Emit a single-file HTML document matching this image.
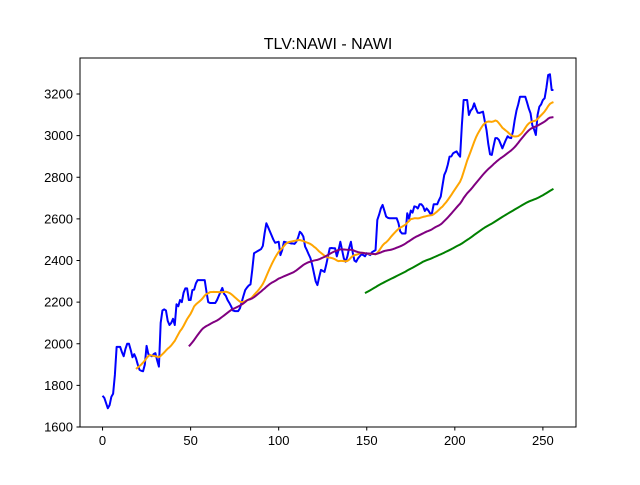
<!DOCTYPE html>
<html><head><meta charset="utf-8"><style>
body{margin:0;background:#fff}
svg text{font-family:"Liberation Sans","DejaVu Sans",sans-serif;fill:#000}
</style></head><body>
<svg id="chart" width="640" height="480" xmlns="http://www.w3.org/2000/svg">
<rect width="640" height="480" fill="#fff"/>
<text x="328" y="49" font-size="16" text-anchor="middle">TLV:NAWI - NAWI</text>
<g id="plot"></g>
<rect x="80" y="58" width="496" height="369" fill="none" stroke="#000" stroke-width="1"/>
</svg>
<script>
const closeValues = [1750,1740,1715,1690,1705,1745,1760,1850,1985,1985,
1985,1960,1940,1975,2000,2000,1970,1935,1950,1930,
1900,1875,1870,1868,1900,1990,1950,1945,1940,1950,
1955,1920,1890,2100,2160,2165,2160,2110,2090,2100,
2120,2090,2190,2180,2210,2200,2245,2266,2266,2210,
2210,2258,2260,2290,2306,2306,2306,2306,2306,2250,
2200,2196,2196,2196,2196,2210,2230,2250,2268,2240,
2230,2210,2196,2180,2160,2157,2157,2157,2170,2200,
2230,2258,2270,2280,2285,2355,2435,2440,2445,2450,
2455,2470,2530,2579,2560,2540,2520,2500,2485,2488,
2490,2426,2450,2490,2488,2485,2485,2482,2482,2480,
2490,2510,2538,2530,2515,2467,2450,2430,2412,2380,
2340,2300,2282,2320,2355,2350,2345,2380,2420,2459,
2460,2459,2459,2420,2450,2490,2450,2410,2394,2420,
2460,2490,2440,2400,2394,2410,2420,2430,2426,2420,
2435,2430,2426,2440,2445,2450,2595,2620,2650,2667,
2640,2611,2605,2603,2603,2603,2603,2603,2580,2540,
2530,2530,2530,2627,2600,2640,2630,2660,2658,2650,
2670,2670,2660,2638,2650,2640,2626,2626,2670,2670,
2670,2690,2707,2760,2811,2830,2860,2899,2900,2915,
2920,2924,2910,2899,3050,3171,3171,3171,3099,3120,
3130,3155,3130,3110,3109,3112,3115,3070,3027,2960,
2910,2907,2950,2988,2988,2980,2960,2939,2960,2980,
2997,2990,2988,3020,3075,3120,3150,3187,3187,3187,
3187,3160,3130,3107,3050,3030,3003,3100,3139,3150,
3171,3180,3230,3291,3295,3219,3219];
const maWindows = [20, 50, 150];
const maColors = ["orange", "purple", "green"];
const xTicks = [0, 50, 100, 150, 200, 250];
const yTicks = [1600, 1800, 2000, 2200, 2400, 2600, 2800, 3000, 3200];

const NS = "http://www.w3.org/2000/svg";
const plot = document.getElementById("plot");
const xMin = -12.8, xMax = 268.8, yMin = 1600, yMax = 3373;
function xs(i){ return 80 + (i - xMin) / (xMax - xMin) * 496; }
function ys(v){ return 427 - (v - yMin) / (yMax - yMin) * 369; }

function mk(tag, attrs){ const e = document.createElementNS(NS, tag); for (const k in attrs) e.setAttribute(k, attrs[k]); return e; }

xTicks.forEach(t => {
  const l = mk("line", {x1: xs(t), x2: xs(t), y1: 427, y2: 430.5, stroke: "#000"});
  
  
  plot.appendChild(l);
  const tx = mk("text", {x: xs(t), y: 445, "font-size": 13, "text-anchor": "middle"});
  tx.textContent = t;
  
  
  plot.appendChild(tx);
});
yTicks.forEach(t => {
  const l = mk("line", {x1: 76.5, x2: 80, y1: ys(t), y2: ys(t), stroke: "#000"});
  
  
  plot.appendChild(l);
  const tx = mk("text", {x: 73, y: ys(t) + 4.5, "font-size": 13, "text-anchor": "end"});
  tx.textContent = t;
  
  
  plot.appendChild(tx);
});

function line(pts, color, name){
  const d = pts.map((p, k) => (k ? "L" : "M") + xs(p[0]).toFixed(2) + "," + ys(p[1]).toFixed(2)).join("");
  const p = mk("path", {d: d, fill: "none", stroke: color, "stroke-width": 2, "stroke-linejoin": "round"});
  
  
  plot.appendChild(p);
}
line(closeValues.map((v, i) => [i, v]), "blue", "close-price-line");
maWindows.forEach((w, k) => {
  const pts = [];
  for (let i = w - 1; i < closeValues.length; i++) {
    let s = 0; for (let j = i - w + 1; j <= i; j++) s += closeValues[j];
    pts.push([i, s / w]);
  }
  line(pts, maColors[k], "moving-average-" + w);
});
</script>
</body></html>
